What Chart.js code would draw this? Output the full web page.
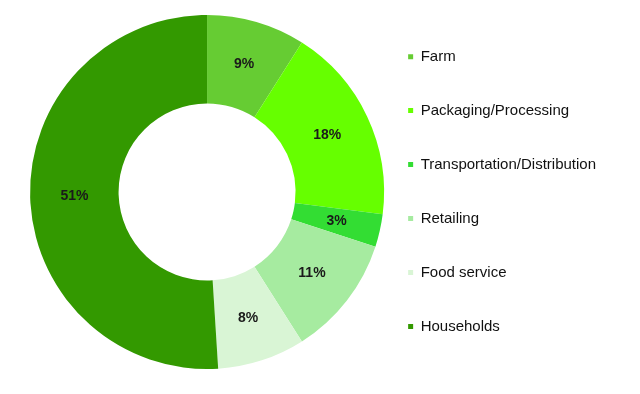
<!DOCTYPE html>
<html>
<head>
<meta charset="utf-8">
<script src="https://cdn.jsdelivr.net/npm/chart.js@4"></script>
<style>
  html, body { margin: 0; padding: 0; background: #fff; }
  #wrap { width: 640px; height: 394px; }
</style>
</head>
<body>
<div id="wrap"><canvas id="chart"></canvas></div>
<script>
// food waste share by stage of the supply chain
const categories = ['Farm', 'Packaging/Processing', 'Transportation/Distribution', 'Retailing', 'Food service', 'Households'];
const shares = [9, 18, 3, 11, 8, 51];
const colors = ['#66cc33', '#66ff00', '#33dd33', '#a6eba0', '#d9f5d5', '#339900'];

// percentage labels drawn at the middle of each slice
const sliceLabels = {
    id: 'sliceLabels',
    afterDatasetsDraw(chart) {
        const ctx = chart.ctx;
        const meta = chart.getDatasetMeta(0);
        ctx.save();
        ctx.font = 'bold 14px "Liberation Sans", Arial, sans-serif';
        ctx.fillStyle = '#1a1a1a';
        ctx.textAlign = 'center';
        ctx.textBaseline = 'middle';
        meta.data.forEach(function(arc, i) {
            const p = arc.tooltipPosition();
            ctx.fillText(shares[i] + '%', p.x, p.y);
        });
        ctx.restore();
    }
};

// move the legend block down a little
const legendShift = {
    id: 'legendShift',
    afterLayout(chart) {
        chart.legend.top += 14;
        chart.legend.bottom += 14;
    }
};

const ctx = document.getElementById('chart').getContext('2d');
const chart = new Chart(ctx, {
    type: 'doughnut',
    data: {
        labels: categories,
        datasets: [{
            data: shares,
            backgroundColor: colors,
            borderWidth: 0
        }]
    },
    options: {
        responsive: true,
        maintainAspectRatio: false,
        animation: false,
        cutout: '50%',
        layout: {
            padding: { left: 16, top: 15, bottom: 25, right: 34 }
        },
        plugins: {
            tooltip: { enabled: false },
            legend: {
                position: 'right',
                align: 'center',
                labels: {
                    boxWidth: 5,
                    boxHeight: 5,
                    padding: 10,
                    color: '#111',
                    font: { family: '"Liberation Sans", Arial, sans-serif', size: 15, lineHeight: 2.93 },
                    // wrap text in an array so the row height follows the font line height
                    generateLabels: function(chart) {
                        const items = Chart.overrides.doughnut.plugins.legend.labels.generateLabels(chart);
                        items.forEach(function(it) { it.text = [it.text]; });
                        return items;
                    }
                }
            }
        }
    },
    plugins: [sliceLabels, legendShift]
});
</script>
</body>
</html>
